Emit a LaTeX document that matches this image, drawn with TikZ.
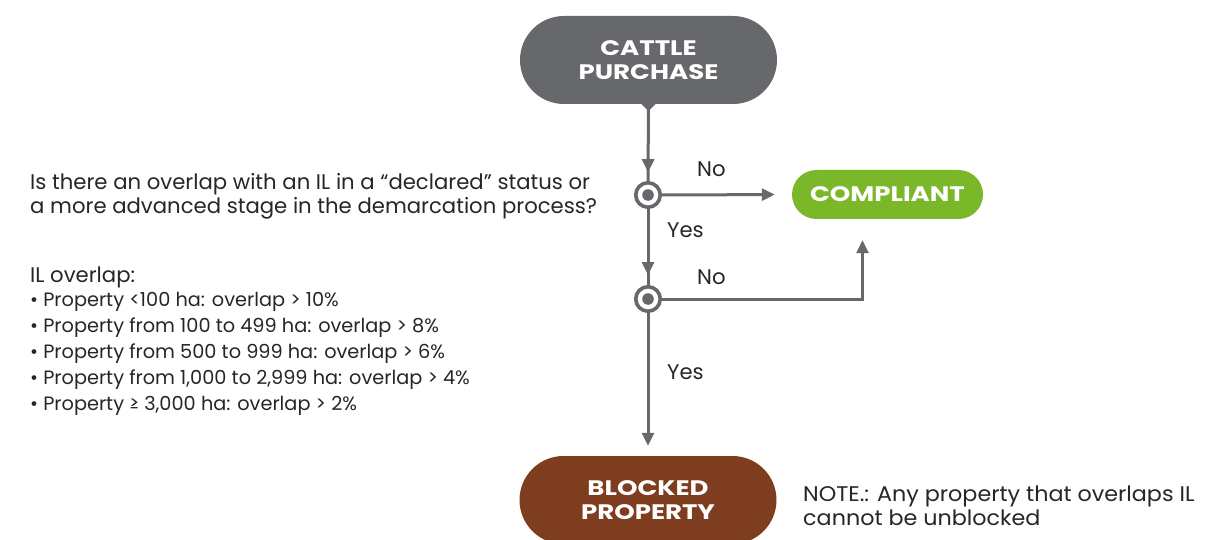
\documentclass[tikz,border=0pt]{standalone}
\usepackage{fontspec}
\setmainfont{Poppins}
\newfontfamily\labfont{Poppins}[FakeStretch=1.24]
\newfontfamily\notefont{Poppins}[FakeStretch=1.05]
\usetikzlibrary{arrows.meta,decorations.markings}
\definecolor{cgray}{HTML}{67686B}
\definecolor{cgreen}{HTML}{7AB829}
\definecolor{cbrown}{HTML}{7E3D1F}
\tikzset{
  pill/.style={text=white, font=\labfont\bfseries\fontsize{21}{24}\selectfont, align=center, inner sep=0pt},
  decision/.style={circle, draw=cgray, line width=3.6pt, fill=white, minimum size=24.5pt, inner sep=0pt,
    path picture={\fill[cgray] (path picture bounding box.center) circle (5.8pt);}},
  conn/.style={draw=cgray, line width=3pt},
  tip/.style={-{Triangle[length=13pt,width=12pt]}},
  lbl/.style={font=\fontsize{21.2}{24}\selectfont, text=black!85, inner sep=0pt, anchor=base west},
  notetxt/.style={font=\notefont\fontsize{21.2}{24}\selectfont, text=black!85, inner sep=0pt, anchor=base west},
  btxt/.style={font=\fontsize{19.3}{20}\selectfont, text=black!85, inner sep=0pt, anchor=base west},
}
\begin{document}
\begin{tikzpicture}[x=1pt,y=-1pt]
\useasboundingbox (0,0) rectangle (1223,540);
\clip (0,0) rectangle (1223,540);
% boxes
\node[pill, fill=cgray, minimum width=257pt, minimum height=88pt, rounded corners=44pt] (cp) at (648.5,60) {CATTLE\\PURCHASE};
\node[pill, fill=cgreen, minimum width=191pt, minimum height=49pt, rounded corners=24.5pt] (ok) at (887.5,194.5) {COMPLIANT};
\node[pill, fill=cbrown, minimum width=257pt, minimum height=88pt, rounded corners=44pt] (bp) at (648,500) {BLOCKED\\PROPERTY};
\fill[cgray] ([xshift=-7pt]cp.south) -- ([xshift=7pt]cp.south) -- ([yshift=-7pt]cp.south) -- cycle;
% decisions
\node[decision] (d1) at (648,195) {};
\node[decision] (d2) at (648,299) {};
% connectors
\draw[conn, postaction={decorate}, decoration={markings, mark=at position 68pt with {\arrow{Triangle[length=13pt,width=12pt]}}}] (cp.south) -- (d1.north);
\draw[conn, postaction={decorate}, decoration={markings, mark=at position 66pt with {\arrow{Triangle[length=13pt,width=12pt]}}}] (d1.south) -- (d2.north);
\draw[conn, tip, shorten >=10pt] (d2.south) -- (bp.north);
\draw[conn, tip, shorten >=17pt] (d1.east) -- (ok.west);
\draw[conn, tip, shorten >=21pt] (d2.east) -| ([xshift=-25pt]ok.south);
% edge labels
\node[lbl] (no1) at (697,177) {No};
\node[lbl] (yes1) at (667,237) {Yes};
\node[lbl] (no2) at (697,284) {No};
\node[lbl] (yes2) at (667,379) {Yes};
% left texts
\node[lbl] (q1) at (30,190) {Is there an overlap with an IL in a “declared” status or};
\node[lbl] (q2) at (30,214) {a more advanced stage in the demarcation process?};
\node[lbl] (il) at (30,282) {IL overlap:};
\node[btxt] (b1) at (30,306) {•\ Property <100 ha: overlap > 10\%};
\node[btxt] (b2) at (30,332) {•\ Property from 100 to 499 ha: overlap > 8\%};
\node[btxt] (b3) at (30,358) {•\ Property from 500 to 999 ha: overlap > 6\%};
\node[btxt] (b4) at (30,384) {•\ Property from 1,000 to 2,999 ha: overlap > 4\%};
\node[btxt] (b5) at (30,410) {•\ Property ≥ 3,000 ha: overlap > 2\%};
% note
\node[notetxt] (n1) at (803,501) {NOTE.: Any property that overlaps IL};
\node[notetxt] (n2) at (803,525) {cannot be unblocked};
\end{tikzpicture}
\end{document}
